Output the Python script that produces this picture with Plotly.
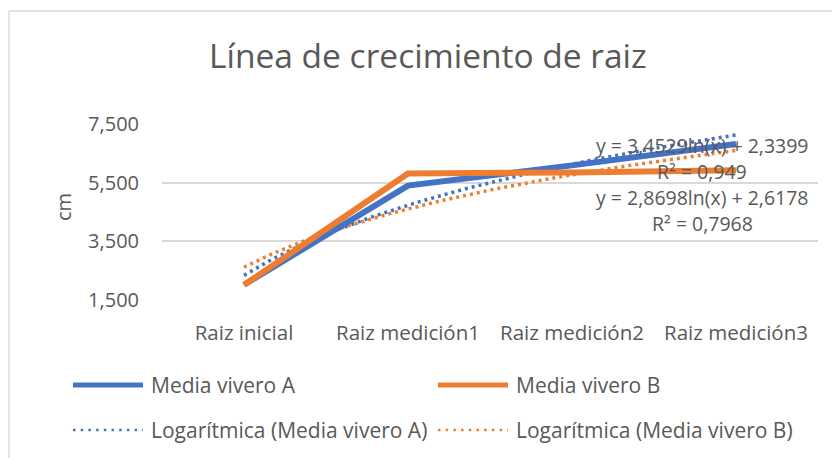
import numpy as np
import plotly.graph_objects as go

categories = ["Raiz inicial", "Raiz medición1", "Raiz medición2", "Raiz medición3"]
media_a = [2.02, 5.40, 6.09, 6.82]
media_b = [2.01, 5.81, 5.85, 5.92]
# logarithmic trendline coefficients: y = a*ln(x) + b
trend_a = [3.4529, 2.3399]
trend_b = [2.8698, 2.6178]
r2_a = "0,949"
r2_b = "0,7968"
y_ticks = [1.5, 3.5, 5.5, 7.5]
y_ticktext = ["1,500", "3,500", "5,500", "7,500"]

BLUE = "#4472C4"
ORANGE = "#ED7D31"
TXT = "#595959"
GRID = "#D9D9D9"
FONT = "Open Sans"

OFF = 8  # page body margin
W, H = 840 - OFF, 458 - OFF
L, R, T, B = 162 - OFF, 818 - OFF, 124 - OFF, 300 - OFF


def px(x):
    return (x - OFF - L) / (R - L)


def py(y):
    return (B - (y - OFF)) / (B - T)


xs = list(range(1, len(categories) + 1))
xd = np.linspace(1, len(categories), 200)
x_lo, x_hi = 0.5, len(categories) + 0.5

fig = go.Figure()
fig.add_trace(go.Scatter(x=xd, y=trend_a[0] * np.log(xd) + trend_a[1], mode="lines",
                         line=dict(color=BLUE, width=3.5, dash="3px,4px"), showlegend=False))
fig.add_trace(go.Scatter(x=xd, y=trend_b[0] * np.log(xd) + trend_b[1], mode="lines",
                         line=dict(color=ORANGE, width=3.5, dash="3px,4px"), showlegend=False))
fig.add_trace(go.Scatter(x=xs, y=media_a, mode="lines",
                         line=dict(color=BLUE, width=6), showlegend=False))
fig.add_trace(go.Scatter(x=xs, y=media_b, mode="lines",
                         line=dict(color=ORANGE, width=6), showlegend=False))

shapes = [
    dict(type="line", xref="paper", yref="paper", x0=px(9), x1=px(850), y0=py(11), y1=py(11),
         line=dict(color=GRID, width=1.3)),
    dict(type="line", xref="paper", yref="paper", x0=px(9), x1=px(9), y0=py(11), y1=py(470),
         line=dict(color=GRID, width=1.3)),
]
annotations = []

# manual legend
legend_items = [
    ("Media vivero A", BLUE, "solid", 73, 385),
    ("Media vivero B", ORANGE, "solid", 438, 385),
    ("Logarítmica (Media vivero A)", BLUE, "dot", 73, 430),
    ("Logarítmica (Media vivero B)", ORANGE, "dot", 438, 430),
]
for name, col, style, x0, yy in legend_items:
    if style == "solid":
        line = dict(color=col, width=5)
    else:
        line = dict(color=col, width=2.5, dash="2.5px,5.2px")
    shapes.append(dict(type="line", xref="paper", yref="paper", x0=px(x0), x1=px(x0 + 70),
                       y0=py(yy), y1=py(yy), line=line))
    annotations.append(dict(text=name, xref="paper", yref="paper", x=px(x0 + 76), y=py(yy),
                            xanchor="left", yanchor="middle", showarrow=False,
                            font=dict(family=FONT, size=21, color=TXT)))

eq_texts = [
    ("y = " + f"{trend_a[0]:.4f}".replace(".", ",") + "ln(x) + " + f"{trend_a[1]:.4f}".replace(".", ","), 145),
    ("R² = " + r2_a, 171),
    ("y = " + f"{trend_b[0]:.4f}".replace(".", ",") + "ln(x) + " + f"{trend_b[1]:.4f}".replace(".", ","), 197),
    ("R² = " + r2_b, 223),
]
for t, yy in eq_texts:
    annotations.append(dict(text=t, xref="paper", yref="paper", x=px(702), y=py(yy),
                            xanchor="center", yanchor="middle", showarrow=False,
                            font=dict(family=FONT, size=19.5, color=TXT)))

annotations.append(dict(text="cm", xref="paper", yref="paper", x=px(63), y=py(207),
                        xanchor="center", yanchor="middle", showarrow=False, textangle=-90,
                        font=dict(family=FONT, size=20, color=TXT)))

annotations.append(dict(text="Línea de crecimiento de raiz", xref="paper", yref="paper",
                        x=px(428), y=py(55), xanchor="center", yanchor="middle", showarrow=False,
                        font=dict(family=FONT, size=33.5, color=TXT)))

fig.update_layout(
    width=W, height=H,
    margin=dict(l=L, r=W - R, t=T, b=H - B),
    paper_bgcolor="white", plot_bgcolor="white",
    shapes=shapes, annotations=annotations,
    font=dict(family=FONT, color=TXT),
)
fig.update_xaxes(range=[x_lo, x_hi], tickvals=xs, ticktext=categories,
                 showgrid=False, zeroline=False, showline=False, ticks="",
                 tickfont=dict(family=FONT, size=20.5, color=TXT), ticklabelstandoff=18)
fig.update_yaxes(range=[y_ticks[0], y_ticks[-1]], tickmode="array", tickvals=y_ticks,
                 ticktext=y_ticktext, showgrid=True, gridcolor=GRID, gridwidth=1.5,
                 zeroline=False, showline=False,
                 ticks="", tickfont=dict(family=FONT, size=20, color=TXT), ticklabelstandoff=22)

fig.write_html("out.html")
